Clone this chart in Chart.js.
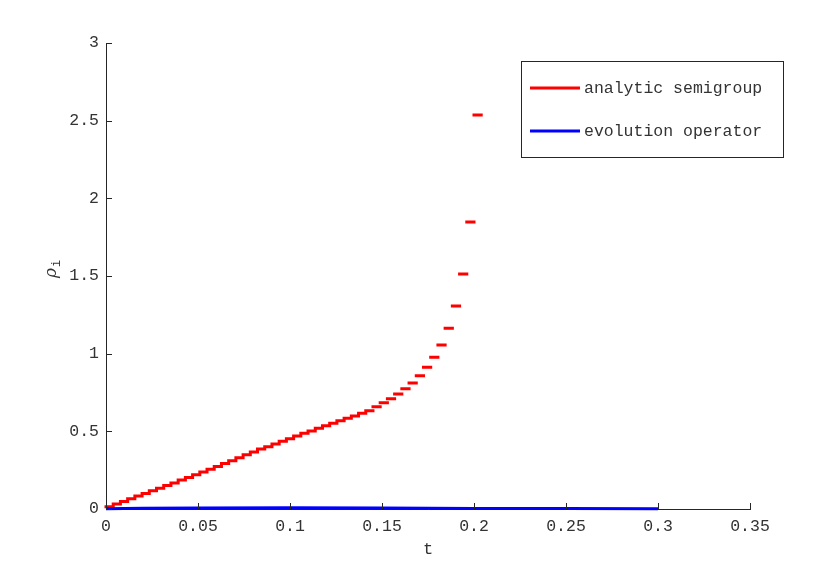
<!DOCTYPE html>
<html>
<head>
<meta charset="utf-8">
<script src="https://cdn.jsdelivr.net/npm/chart.js@4"></script>
<style>
  html, body { margin: 0; padding: 0; background: #fff; }
  #wrap { width: 830px; height: 571px; }
</style>
</head>
<body>
<div id="wrap"><canvas id="chart" width="830" height="571"></canvas></div>
<script>
// ---- data ----
const xTicks = [0, 0.05, 0.1, 0.15, 0.2, 0.25, 0.3, 0.35];
const yTicks = [0, 0.5, 1, 1.5, 2, 2.5, 3];

// analytic semigroup: piecewise constant on [edge_k, edge_k+1]
const semigroupEdges = [
  0, 0.00392, 0.00784, 0.01176, 0.01569, 0.01961, 0.02353, 0.02745, 0.03137, 0.03529,
  0.03922, 0.04314, 0.04706, 0.05098, 0.0549, 0.05882, 0.06275, 0.06667, 0.07059, 0.07451,
  0.07843, 0.08235, 0.08627, 0.0902, 0.09412, 0.09804, 0.10196, 0.10588, 0.1098, 0.11373,
  0.11765, 0.12157, 0.12549, 0.12941, 0.13333, 0.13725, 0.14118, 0.1451, 0.14902, 0.15294,
  0.15686, 0.16078, 0.16471, 0.16863, 0.17255, 0.17647, 0.18039, 0.18431, 0.18824, 0.19216,
  0.19608, 0.2, 0.20392
];
const semigroupValues = [
  0.015, 0.032, 0.049, 0.066, 0.083, 0.100, 0.117, 0.134, 0.151, 0.168,
  0.186, 0.203, 0.220, 0.238, 0.256, 0.274, 0.293, 0.311, 0.330, 0.349,
  0.367, 0.386, 0.401, 0.418, 0.436, 0.453, 0.470, 0.487, 0.502, 0.520,
  0.536, 0.552, 0.568, 0.584, 0.599, 0.616, 0.633, 0.658, 0.684, 0.710,
  0.740, 0.774, 0.811, 0.858, 0.912, 0.977, 1.056, 1.163, 1.307, 1.513,
  1.848, 2.537
];

// evolution operator: stays near zero up to t = 0.3
const evolutionT      = [0, 0.02, 0.05, 0.1, 0.15, 0.2, 0.25, 0.3];
const evolutionValues = [0.002, 0.005, 0.007, 0.008, 0.006, 0.004, 0.003, 0.002];

const seriesLabels = ['analytic semigroup', 'evolution operator'];
const seriesColors = ['#ff0000', '#0000ff'];

// ---- build the point lists ----
const semigroupPts = [];
semigroupValues.forEach((v, k) => {
  semigroupPts.push({ x: semigroupEdges[k], y: v });
  semigroupPts.push({ x: semigroupEdges[k + 1], y: v });
  semigroupPts.push({ x: semigroupEdges[k + 1], y: null });   // break between pieces
});
const evolutionPts = evolutionT.map((t, i) => ({ x: t, y: evolutionValues[i] }));

const AXIS = '#262626';
const TEXT = '#333333';
const MONO = '"Liberation Mono", "DejaVu Sans Mono", monospace';
const fmt = v => String(parseFloat(v.toFixed(2)));

// inward tick marks, axis titles and the boxed legend (MATLAB look)
const matlabBits = {
  id: 'matlabBits',
  afterDraw(chart) {
    const { ctx, chartArea: a, scales: { x, y } } = chart;
    ctx.save();
    ctx.strokeStyle = AXIS;
    ctx.lineWidth = 1;
    ctx.beginPath();
    xTicks.forEach(t => {
      const px = Math.round(x.getPixelForValue(t)) + 0.5;
      ctx.moveTo(px, a.bottom); ctx.lineTo(px, a.bottom - 6);
    });
    yTicks.forEach(v => {
      const py = Math.round(y.getPixelForValue(v)) + 0.5;
      ctx.moveTo(a.left, py); ctx.lineTo(a.left + 6, py);
    });
    ctx.stroke();

    // x title
    ctx.fillStyle = TEXT;
    ctx.font = '17px ' + MONO;
    ctx.textAlign = 'center';
    ctx.textBaseline = 'middle';
    ctx.fillText('t', (a.left + a.right) / 2, 549);

    // y title: rho with subscript i
    ctx.save();
    ctx.translate(56, (a.top + a.bottom) / 2 - 6);
    ctx.rotate(-Math.PI / 2);
    ctx.textBaseline = 'alphabetic';
    ctx.textAlign = 'left';
    ctx.font = 'italic 17px "DejaVu Serif", serif';
    const rw = ctx.measureText('ρ').width;
    ctx.fillText('ρ', -rw / 2 - 3, 0);
    ctx.font = '12px ' + MONO;
    ctx.fillText('i', rw / 2 - 2, 4);
    ctx.restore();

    // legend
    const lx = 521.5, ly = 61.5, lw = 262, lh = 96;
    ctx.fillStyle = '#fff';
    ctx.fillRect(lx, ly, lw, lh);
    ctx.strokeStyle = AXIS;
    ctx.strokeRect(lx, ly, lw, lh);
    const rows = [88, 131];
    chart.data.datasets.forEach((ds, i) => {
      ctx.strokeStyle = ds.borderColor;
      ctx.lineWidth = 3;
      ctx.beginPath();
      ctx.moveTo(530, rows[i]); ctx.lineTo(580, rows[i]);
      ctx.stroke();
      ctx.fillStyle = TEXT;
      ctx.font = '16.5px ' + MONO;
      ctx.textAlign = 'left';
      ctx.textBaseline = 'middle';
      ctx.fillText(ds.label, 584, rows[i] + 1);
    });
    ctx.restore();
  }
};

new Chart(document.getElementById('chart'), {
  type: 'line',
  data: {
    datasets: [
      {
        label: seriesLabels[0],
        data: semigroupPts,
        borderColor: seriesColors[0],
        backgroundColor: seriesColors[0],
        borderWidth: 3,
        borderCapStyle: 'square',
        pointRadius: 0,
        spanGaps: false,
        order: 2,
        clip: 6
      },
      {
        label: seriesLabels[1],
        data: evolutionPts,
        borderColor: seriesColors[1],
        backgroundColor: seriesColors[1],
        borderWidth: 3,
        pointRadius: 0,
        order: 1,
        clip: 6
      }
    ]
  },
  options: {
    responsive: false,
    animation: false,
    events: [],
    layout: { padding: { top: 43, right: 80, left: 0, bottom: 0 } },
    plugins: { legend: { display: false }, tooltip: { enabled: false } },
    scales: {
      x: {
        type: 'linear',
        min: 0, max: 0.35,
        afterBuildTicks: s => { s.ticks = xTicks.map(v => ({ value: v })); },
        afterFit: s => { s.height = 62; },
        grid: { display: false, drawTicks: false },
        border: { display: true, color: AXIS, width: 1 },
        ticks: {
          padding: 8,
          color: TEXT,
          maxRotation: 0,
          font: { family: MONO, size: 16.5 },
          callback: v => fmt(v)
        }
      },
      y: {
        type: 'linear',
        min: 0, max: 3,
        afterBuildTicks: s => { s.ticks = yTicks.map(v => ({ value: v })); },
        afterFit: s => { s.width = 106; },
        grid: { display: false, drawTicks: false },
        border: { display: true, color: AXIS, width: 1 },
        ticks: {
          padding: 7,
          color: TEXT,
          font: { family: MONO, size: 16.5 },
          callback: v => fmt(v)
        }
      }
    }
  },
  plugins: [matlabBits]
});
</script>
</body>
</html>
